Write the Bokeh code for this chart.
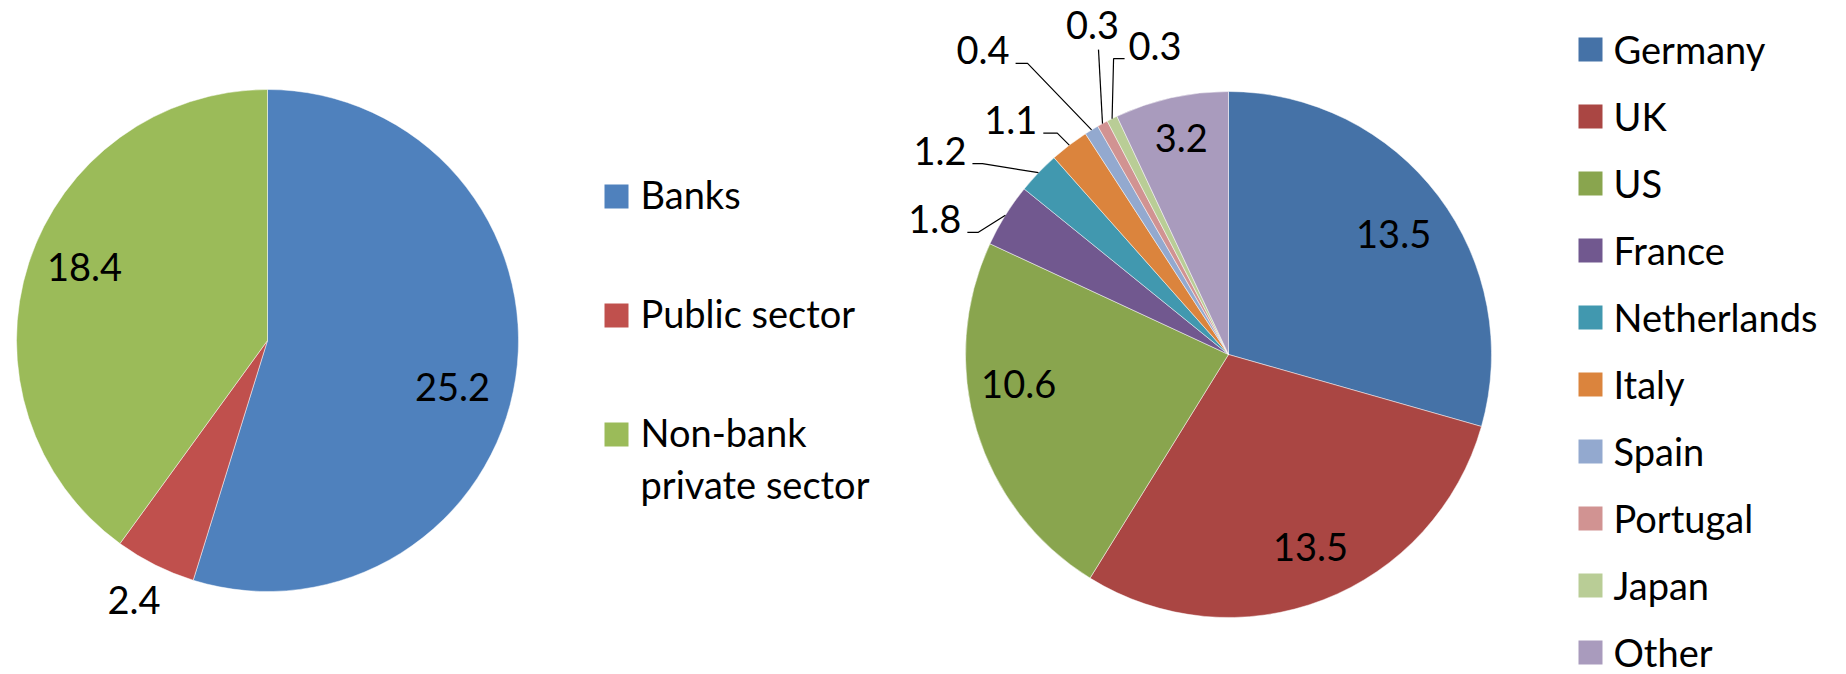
import math
from bokeh.plotting import figure
from bokeh.models import Range1d, ColumnDataSource
from bokeh.core.properties import value
from bokeh.embed import file_html
from bokeh.resources import INLINE

# ---------------- data ----------------
left_categories = ["Banks", "Public sector", "Non-bank private sector"]
left_values = [25.2, 2.4, 18.4]
left_colors = ["#4F81BD", "#C0504D", "#9BBB59"]
left_legend_lines = [["Banks"], ["Public sector"], ["Non-bank", "private sector"]]

right_categories = ["Germany", "UK", "US", "France", "Netherlands", "Italy",
                    "Spain", "Portugal", "Japan", "Other"]
right_values = [13.5, 13.5, 10.6, 1.8, 1.2, 1.1, 0.4, 0.3, 0.3, 3.2]
right_colors = ["#4572A7", "#AA4643", "#89A54E", "#71588F", "#4198AF", "#DB843D",
                "#93A9CF", "#D19392", "#B9CD96", "#A99BBD"]

# ---------------- layout ----------------
W, H = 1846, 674
FONT = value("Lato")
FS = "38px"
CAP = 13      # half cap height, used to centre digits visually
TEXT_DY = -14  # renderer baseline correction

LEFT_C, LEFT_R = (267, 340), 251
RIGHT_C, RIGHT_R = (1228, 354), 263

# label placement inside/near slices: (distance from centre, angle nudge in degrees)
left_label_place = [(191, 5.7), (293, 0.5), (197, 3.7)]
right_label_place = {0: (204, 1.1), 1: (210, -1.8), 2: (212, 8.5), 9: (221, 0.2)}
# leader lines for the thin slices: knee and tail offsets from slice edge, label side
right_leaders = {
    3: ((-27, 17), (-38, 17), "right"),
    4: ((-56, -9), (-66, -9), "right"),
    5: ((-12, -12), (-26, -12), "right"),
    6: ((-64, -66.5), (-76, -66.5), "right"),
    7: ((-4, -74), (-4, -74), "above"),
    8: ((1.5, -60), (12.5, -60), "left"),
}

p = figure(width=W, height=H, x_range=Range1d(0, W), y_range=Range1d(0, H),
           output_backend="svg", toolbar_location=None, min_border=0)
p.axis.visible = False
p.grid.visible = False
p.outline_line_color = None
p.background_fill_color = "white"
p.border_fill_color = "white"


def Y(ys):
    return H - ys


def angles(vals):
    total = sum(vals)
    cum = 0.0
    out = []
    for v in vals:
        a0 = cum / total * 2 * math.pi
        cum += v
        a1 = cum / total * 2 * math.pi
        out.append((a0, a1, (a0 + a1) / 2))
    return out


def draw_pie(center, r, vals, colors):
    ang = angles(vals)
    src = ColumnDataSource(dict(
        x=[center[0]] * len(vals), y=[Y(center[1])] * len(vals),
        start=[math.pi / 2 - a[0] for a in ang],
        end=[math.pi / 2 - a[1] for a in ang],
        color=colors))
    p.wedge(x="x", y="y", radius=r, start_angle="start", end_angle="end",
            direction="clock", fill_color="color", line_color="white",
            line_width=0.6, line_alpha=0.8, source=src)
    return ang


def add_text(xs, ys, texts, align):
    src = ColumnDataSource(dict(x=xs, y=[Y(v + TEXT_DY) for v in ys], t=texts))
    p.text(x="x", y="y", text="t", source=src, text_font=FONT, text_font_size=FS,
           text_align=align, text_baseline="alphabetic", text_color="black")


# ---- left pie ----
ang_l = draw_pie(LEFT_C, LEFT_R, left_values, left_colors)
lx, ly, lt = [], [], []
for i, v in enumerate(left_values):
    d, nud = left_label_place[i]
    m = ang_l[i][2] + math.radians(nud)
    lx.append(LEFT_C[0] + d * math.sin(m))
    ly.append(LEFT_C[1] - d * math.cos(m) + CAP)
    lt.append(f"{v:.1f}")
add_text(lx, ly, lt, "center")

# left legend
leg_x_sq, leg_x_tx = 616, 640
left_rows = [196, 315, 434]
sq = ColumnDataSource(dict(x=[leg_x_sq] * 3, y=[Y(v) for v in left_rows], c=left_colors))
p.rect(x="x", y="y", width=24, height=24, fill_color="c", line_color=None, source=sq)
tx, ty, tt = [], [], []
for row, lines in zip(left_rows, left_legend_lines):
    for k, line in enumerate(lines):
        tx.append(leg_x_tx)
        ty.append(row + 11 + 52 * k)
        tt.append(line)
add_text(tx, ty, tt, "left")

# ---- right pie ----
ang_r = draw_pie(RIGHT_C, RIGHT_R, right_values, right_colors)
cx, cy = RIGHT_C
bx, by, bt = [], [], []
for i, (d, nud) in right_label_place.items():
    m = ang_r[i][2] + math.radians(nud)
    bx.append(cx + d * math.sin(m))
    by.append(cy - d * math.cos(m) + CAP)
    bt.append(f"{right_values[i]:.1f}")
add_text(bx, by, bt, "center")

groups = {"right": ([], [], []), "left": ([], [], []), "center": ([], [], [])}
seg_x, seg_y = [], []
for i, (knee, tail, side) in right_leaders.items():
    m = ang_r[i][2]
    ex = cx + RIGHT_R * math.sin(m)
    ey = cy - RIGHT_R * math.cos(m)
    kx, ky = ex + knee[0], ey + knee[1]
    tx_, ty_ = ex + tail[0], ey + tail[1]
    seg_x.append([ex, kx, tx_])
    seg_y.append([Y(ey), Y(ky), Y(ty_)])
    label = f"{right_values[i]:.1f}"
    if side == "right":
        g = groups["right"]; g[0].append(tx_ - 6); g[1].append(ty_ + 1)
    elif side == "left":
        g = groups["left"]; g[0].append(tx_ + 4); g[1].append(ty_ + 1)
    else:
        g = groups["center"]; g[0].append(tx_ - 6); g[1].append(ty_ - 11)
    g[2].append(label)
p.multi_line(xs=seg_x, ys=seg_y, line_color="black", line_width=1.2)
for align, (gx, gy, gt) in groups.items():
    if gx:
        add_text(gx, gy, gt, align)

# right legend
rl_sq, rl_tx = 1590, 1613
rows = [49 + 67 * k for k in range(len(right_categories))]
sq2 = ColumnDataSource(dict(x=[rl_sq] * len(rows), y=[Y(v) for v in rows], c=right_colors))
p.rect(x="x", y="y", width=24, height=24, fill_color="c", line_color=None, source=sq2)
add_text([rl_tx] * len(rows), [v + 13 for v in rows], right_categories, "left")

open("out.html", "w").write(file_html(p, INLINE))
